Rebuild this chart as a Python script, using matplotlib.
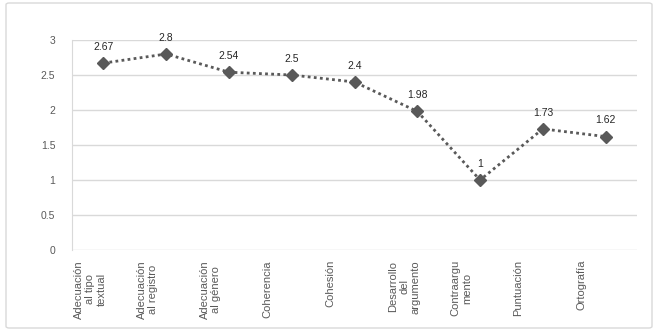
import matplotlib.pyplot as plt
from matplotlib.patches import FancyBboxPatch
from matplotlib.transforms import offset_copy

plt.rcParams['font.family'] = ['Liberation Sans', 'DejaVu Sans']

# Scores per criterion
criterios = [
    "Adecuación\nal tipo\ntextual",
    "Adecuación\nal registro",
    "Adecuación\nal género",
    "Coherencia",
    "Cohesión",
    "Desarrollo\ndel\nargumento",
    "Contraargu\nmento",
    "Puntuación",
    "Ortografía",
]
puntajes = [2.67, 2.8, 2.54, 2.5, 2.4, 1.98, 1, 1.73, 1.62]
etiquetas = ["2.67", "2.8", "2.54", "2.5", "2.4", "1.98", "1", "1.73", "1.62"]
y_ticks = [0, 0.5, 1, 1.5, 2, 2.5, 3]
y_tick_labels = ["0", "0.5", "1", "1.5", "2", "2.5", "3"]

fig = plt.figure(figsize=(6.58, 3.35), dpi=100)
fig.patch.set_facecolor("white")

# light frame around the whole chart
frame = FancyBboxPatch((6 / 658, 7 / 335), 646 / 658, 325 / 335,
                       boxstyle="round,pad=0,rounding_size=0.005",
                       transform=fig.transFigure, facecolor="none",
                       edgecolor="#d9d9d9", linewidth=1)
fig.patches.append(frame)

ax = fig.add_axes([72 / 658, 1 - 250 / 335, 565 / 658, 210 / 335])
x = list(range(len(criterios)))

ax.plot(x, puntajes, color="#595959", linestyle=(0, (1, 1.2)), linewidth=2,
        marker="D", markersize=6.5, markerfacecolor="#595959",
        markeredgecolor="#595959", zorder=3)

for xi, yi, lab in zip(x, puntajes, etiquetas):
    ax.annotate(lab, (xi, yi), xytext=(0, 8), textcoords="offset points",
                ha="center", va="bottom", fontsize=7.5, color="#262626")

ax.set_xlim(-0.5, len(criterios) - 0.5)
ax.set_ylim(0, 3)
ax.set_yticks(y_ticks)
ax.set_yticklabels(y_tick_labels)
ax.set_xticks(x)
ax.set_xticklabels([])

# category labels: rotated, starting at the left edge of each category slot
lab_trans = offset_copy(ax.get_xaxis_transform(), fig=fig, x=2, y=-10, units="dots")
for xi, nombre in zip(x, criterios):
    ax.text(xi - 0.5, 0, nombre, transform=lab_trans, rotation=90,
            ha="left", va="top", multialignment="center", linespacing=1.15,
            fontsize=8, color="#595959")

ax.grid(axis="y", color="#d9d9d9", linewidth=1)
ax.set_axisbelow(True)
for side in ["top", "right", "bottom"]:
    ax.spines[side].set_visible(False)
ax.spines["left"].set_color("#d9d9d9")
ax.tick_params(axis="both", length=0, labelsize=7.5, labelcolor="#595959")
ax.tick_params(axis="y", pad=12)

fig.savefig("out.png", dpi=100, facecolor="white")
